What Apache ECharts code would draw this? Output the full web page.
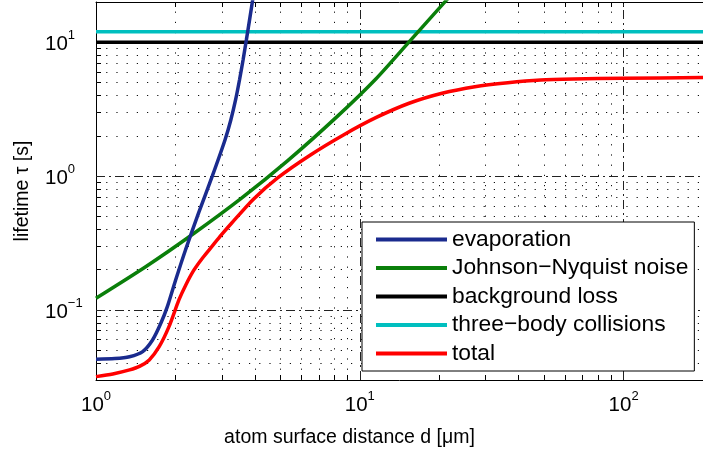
<!DOCTYPE html>
<html>
<head>
<meta charset="utf-8">
<script src="https://cdn.jsdelivr.net/npm/echarts@6/dist/echarts.min.js"></script>
<style>
  html, body { margin: 0; padding: 0; background: #fff; }
  #chart { width: 703px; height: 456px; }
</style>
</head>
<body>
<div id="chart"></div>
<script>
// Atom lifetime contributions versus atom–surface distance (log–log)

// evaporation
const evapD   = [1.0, 1.178, 1.34, 1.503, 1.638, 1.761, 1.864, 2.004, 2.184, 2.449, 2.759, 3.083, 3.244, 3.381, 3.499, 3.61, 3.714, 3.818, 3.925, 4.04];
const evapTau = [0.0429, 0.0434, 0.0448, 0.0489, 0.0597, 0.0796, 0.106, 0.1677, 0.281, 0.531, 1.0, 1.864, 2.63, 3.71, 5.23, 7.38, 10.38, 14.58, 20.7, 29.2];

// Johnson–Nyquist noise
const jnD   = [1.0, 1.548, 2.312, 3.532, 5.318, 8.18, 11.55, 15.38, 21.1, 27.3];
const jnTau = [0.1224, 0.2115, 0.3649, 0.6766, 1.301, 2.773, 5.37, 10.08, 20.19, 35.6];

// total lifetime
const totalD   = [1.0, 1.158, 1.34, 1.461, 1.592, 1.736, 1.891, 2.062, 2.19, 2.346, 2.535, 2.747, 2.986, 3.264, 3.934, 4.88, 6.5, 8.67, 11.55, 15.38, 20.5, 27.3, 36.4, 48.5, 64.6, 99.4, 200];
const totalTau = [0.0318, 0.0333, 0.0357, 0.0379, 0.0424, 0.0532, 0.0751, 0.1189, 0.1539, 0.1975, 0.2448, 0.2973, 0.3637, 0.4447, 0.6675, 0.970, 1.44, 2.032, 2.745, 3.505, 4.163, 4.662, 4.995, 5.232, 5.322, 5.387, 5.452];

// constant contributions
const bgD = [1, 200];
const bgTau = [10, 10];
const tbD = [1, 200];
const tbTau = [12, 12];

// axes
const xRange = [1, 200];
const yRange = [0.03, 20];
const xLabelValues = [1, 10, 100];
const yLabelValues = [0.1, 1, 10];
const xMajorGrid = [10, 100];
const yMajorGrid = [0.1, 1, 10];
const xMinorGrid = [2, 3, 4, 5, 6, 7, 8, 9, 20, 30, 40, 50, 60, 70, 80, 90];
const yMinorGrid = [0.04, 0.05, 0.06, 0.07, 0.08, 0.09, 0.2, 0.3, 0.4, 0.5, 0.6, 0.7, 0.8, 0.9, 2, 3, 4, 5, 6, 7, 8, 9];
const xTickValues = [1, 2, 3, 4, 5, 6, 7, 8, 9, 10, 20, 30, 40, 50, 60, 70, 80, 90, 100];
const yTickValues = [0.03, 0.04, 0.05, 0.06, 0.07, 0.08, 0.09, 0.1, 0.2, 0.3, 0.4, 0.5, 0.6, 0.7, 0.8, 0.9, 1, 2, 3, 4, 5, 6, 7, 8, 9, 10, 20];

const FONT = '"Liberation Sans", Arial, Helvetica, sans-serif';

const pairs = (xs, ys) => xs.map((x, i) => [x, ys[i]]);

function powLabel(v) {
  const lg = Math.log10(v);
  const e = Math.round(lg);
  if (Math.abs(lg - e) > 1e-6) return '';
  return '{b|10}{s|' + String(e).replace('-', '\u2212') + '}';
}

const tickRich = {
  b: { fontSize: 20.5, fontFamily: FONT, color: '#000', verticalAlign: 'bottom', lineHeight: 21 },
  s: { fontSize: 13, fontFamily: FONT, color: '#000', verticalAlign: 'bottom', padding: [0, 0, 13, 0] }
};

const frameLine = { show: true, onZero: false, lineStyle: { color: '#000', width: 1 } };

const chart = echarts.init(document.getElementById('chart'), null, { renderer: 'canvas' });

const lineSeries = (name, data, color, z) => ({
  name, type: 'line', data, showSymbol: false, symbol: 'none',
  smooth: 0.25, clip: true, z,
  lineStyle: { color, width: 3.5 }, itemStyle: { color },
  emphasis: { disabled: true }
});

chart.setOption({
  animation: false,
  backgroundColor: '#fff',
  grid: { left: 96, top: 2, width: 615, height: 378 },
  legend: {
    orient: 'vertical',
    left: 362, top: 222,
    data: ['evaporation', 'Johnson\u2212Nyquist noise', 'background loss', 'three\u2212body collisions', 'total'],
    icon: 'rect',
    itemWidth: 71, itemHeight: 4, itemGap: 5.5,
    padding: [6, 6, 6, 14],
    borderColor: '#000', borderWidth: 1, borderRadius: 0,
    backgroundColor: '#fff',
    textStyle: { fontSize: 22.8, fontFamily: FONT, color: '#000', lineHeight: 23 },
    selectedMode: false,
    z: 10
  },
  xAxis: [
    {
      type: 'log', logBase: 10, min: xRange[0], max: xRange[1], position: 'bottom',
      axisLine: frameLine,
      axisTick: { show: true, inside: true, length: 5, customValues: xTickValues, lineStyle: { color: '#000' } },
      axisLabel: { customValues: xLabelValues, formatter: powLabel, rich: tickRich, margin: 10 },
      splitLine: { show: false },
      name: 'atom surface distance d [\u03bcm]',
      nameLocation: 'middle', nameGap: 48,
      nameTextStyle: { fontSize: 19.5, fontFamily: FONT, color: '#000', padding: [0, 100, 0, 0] }
    },
    {
      type: 'log', logBase: 10, min: xRange[0], max: xRange[1], position: 'top',
      axisLine: frameLine,
      axisTick: { show: true, inside: true, length: 5, customValues: xTickValues, lineStyle: { color: '#000' } },
      axisLabel: { show: false },
      splitLine: { show: false }
    }
  ],
  yAxis: [
    {
      type: 'log', logBase: 10, min: yRange[0], max: yRange[1], position: 'left',
      axisLine: frameLine,
      axisTick: { show: true, inside: true, length: 5, customValues: yTickValues, lineStyle: { color: '#000' } },
      axisLabel: { customValues: yLabelValues, formatter: powLabel, rich: tickRich, margin: 51, align: 'left' },
      splitLine: { show: false },
      name: 'lifetime \u03c4 [s]',
      nameLocation: 'middle', nameGap: 63,
      nameTextStyle: { fontSize: 19.5, fontFamily: FONT, color: '#000' }
    }
  ],
  series: [
    {
      type: 'line', data: [], silent: true, z: 1,
      markLine: {
        silent: true, symbol: ['none', 'none'], label: { show: false }, animation: false, z: 1,
        emphasis: { disabled: true },
        lineStyle: { color: '#111', width: 1, type: [1.2, 9] },
        data: xMinorGrid.map(v => ({ xAxis: v })).concat(yMinorGrid.map(v => ({ yAxis: v })))
      }
    },
    {
      type: 'line', data: [], silent: true, z: 1,
      markLine: {
        silent: true, symbol: ['none', 'none'], label: { show: false }, animation: false, z: 1,
        emphasis: { disabled: true },
        lineStyle: { color: '#222', width: 1, type: [9, 4, 2, 4] },
        data: xMajorGrid.map(v => ({ xAxis: v })).concat(yMajorGrid.map(v => ({ yAxis: v })))
      }
    },
    lineSeries('background loss', pairs(bgD, bgTau), '#000000', 3),
    lineSeries('three\u2212body collisions', pairs(tbD, tbTau), '#00bfbf', 3),
    lineSeries('Johnson\u2212Nyquist noise', pairs(jnD, jnTau), '#0a7f0a', 4),
    lineSeries('evaporation', pairs(evapD, evapTau), '#1a2b8e', 5),
    lineSeries('total', pairs(totalD, totalTau), '#ff0000', 6)
  ]
});
</script>
</body>
</html>
